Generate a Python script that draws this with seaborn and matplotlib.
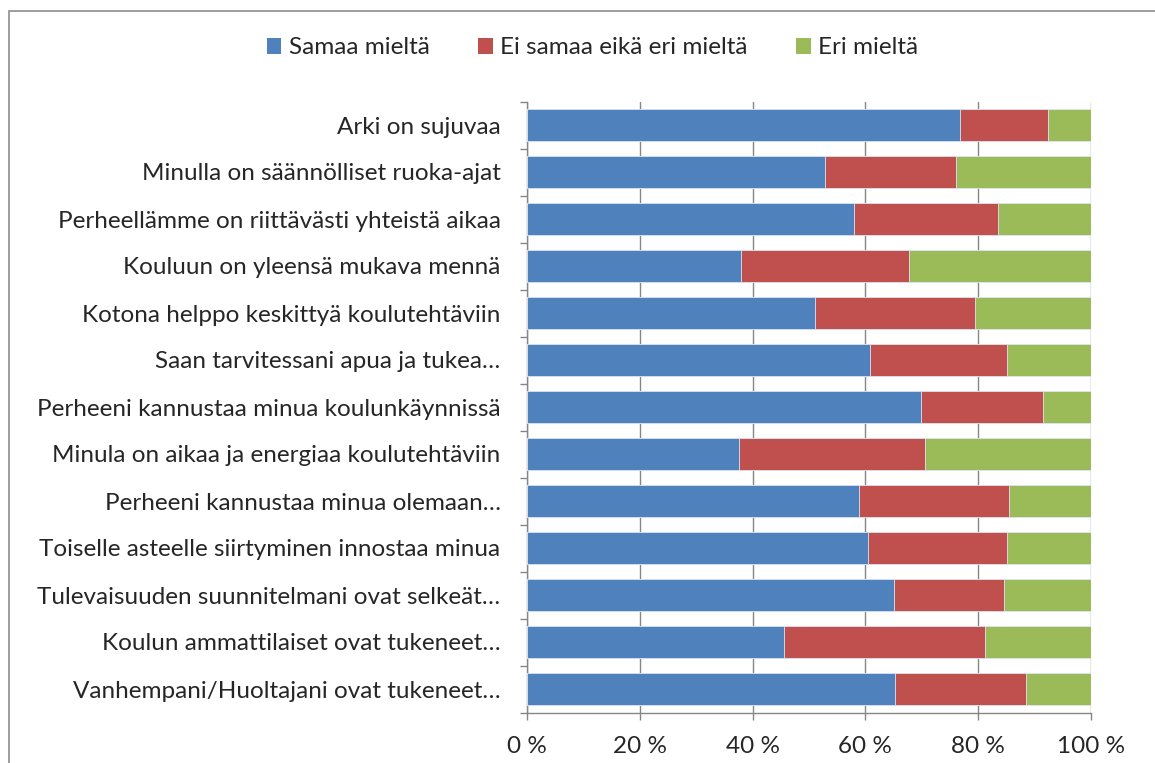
import matplotlib
matplotlib.use('Agg')
import matplotlib.pyplot as plt
import matplotlib.patches as mpatches
import numpy as np
import pandas as pd
import seaborn as sns

# Data (percent of answers)
statements = [
    "Arki on sujuvaa",
    "Minulla on säännölliset ruoka-ajat",
    "Perheellämme on riittävästi yhteistä aikaa",
    "Kouluun on yleensä mukava mennä",
    "Kotona helppo keskittyä koulutehtäviin",
    "Saan tarvitessani apua ja tukea…",
    "Perheeni kannustaa minua koulunkäynnissä",
    "Minula on aikaa ja energiaa koulutehtäviin",
    "Perheeni kannustaa minua olemaan…",
    "Toiselle asteelle siirtyminen innostaa minua",
    "Tulevaisuuden suunnitelmani ovat selkeät…",
    "Koulun ammattilaiset ovat tukeneet…",
    "Vanhempani/Huoltajani ovat tukeneet…",
]
samaa = [76.8, 52.8, 57.9, 37.9, 51.0, 60.9, 69.9, 37.6, 58.9, 60.4, 65.1, 45.5, 65.3]
ei_samaa_eika_eri = [15.6, 23.3, 25.6, 29.8, 28.5, 24.2, 21.6, 32.9, 26.6, 24.7, 19.5, 35.7, 23.1]
eri = [7.6, 23.9, 16.5, 32.3, 20.5, 14.9, 8.5, 29.5, 14.5, 14.9, 15.4, 18.8, 11.6]

series_names = ["Samaa mieltä", "Ei samaa eikä eri mieltä", "Eri mieltä"]
colors = ["#4F81BD", "#C0504D", "#9BBB59"]

df = pd.DataFrame({
    "statement": statements,
    "samaa": samaa,
    "neutral": ei_samaa_eika_eri,
    "eri": eri,
})
# cumulative ends for stacking (normalised to 100 %)
total = df["samaa"] + df["neutral"] + df["eri"]
df["c1"] = df["samaa"] / total * 100
df["c2"] = (df["samaa"] + df["neutral"]) / total * 100
df["c3"] = 100.0

sns.set_style("white")
plt.rcParams['font.family'] = ['Lato', 'DejaVu Sans']
FS = 17.5

fig = plt.figure(figsize=(11.55, 7.63), dpi=100)
ax = fig.add_axes([527 / 1155, 1 - 712.5 / 763, (1091 - 527) / 1155, (712.5 - 101.5) / 763])

# draw back to front: full bar (green), then red, then blue
for col, color in zip(["c3", "c2", "c1"], colors[::-1]):
    sns.barplot(data=df, x=col, y="statement", order=statements, color=color,
                saturation=1, width=0.66, edgecolor="#dce6f2", linewidth=0.6,
                ax=ax, orient="h", zorder=3)

ax.set_xlim(0, 100)
ax.set_ylim(len(statements) - 0.5, -0.5)
ax.set_xticks(np.arange(0, 101, 20))
ax.set_xticklabels([f"{v} %" for v in range(0, 101, 20)])
ax.set_xlabel("")
ax.set_ylabel("")

ax.grid(axis="x", color="#868686", linewidth=1.0, zorder=0)
ax.set_axisbelow(True)
for side in ["top", "right"]:
    ax.spines[side].set_visible(False)
for side in ["left", "bottom"]:
    ax.spines[side].set_color("#868686")
    ax.spines[side].set_linewidth(1.0)

ax.tick_params(axis="x", which="major", length=5, width=1, color="#868686",
               labelsize=FS, pad=12, direction="out", bottom=True)
ax.tick_params(axis="y", which="major", length=0, labelsize=FS, pad=19)
ax.set_yticks(np.arange(-0.5, len(statements), 1.0), minor=True)
ax.tick_params(axis="y", which="minor", length=5, width=1, color="#868686",
               direction="out", left=True)

handles = [mpatches.Patch(facecolor=c, edgecolor="none", label=n)
           for c, n in zip(colors, series_names)]
fig.legend(handles=handles, loc="center", bbox_to_anchor=(0.513, 1 - 48 / 763),
           ncol=3, frameon=False, fontsize=FS, handlelength=0.6, handleheight=0.6,
           handletextpad=0.3, columnspacing=2.0)

# chart-area border (cut at the right and bottom in the reference)
fig.patches.append(mpatches.Rectangle((9 / 1155, -0.05), 1.1, 1 - 11 / 763 + 0.05,
                                      transform=fig.transFigure, fill=False,
                                      edgecolor="#8c8c8c", linewidth=1.2))

fig.savefig("out.png", dpi=100)
